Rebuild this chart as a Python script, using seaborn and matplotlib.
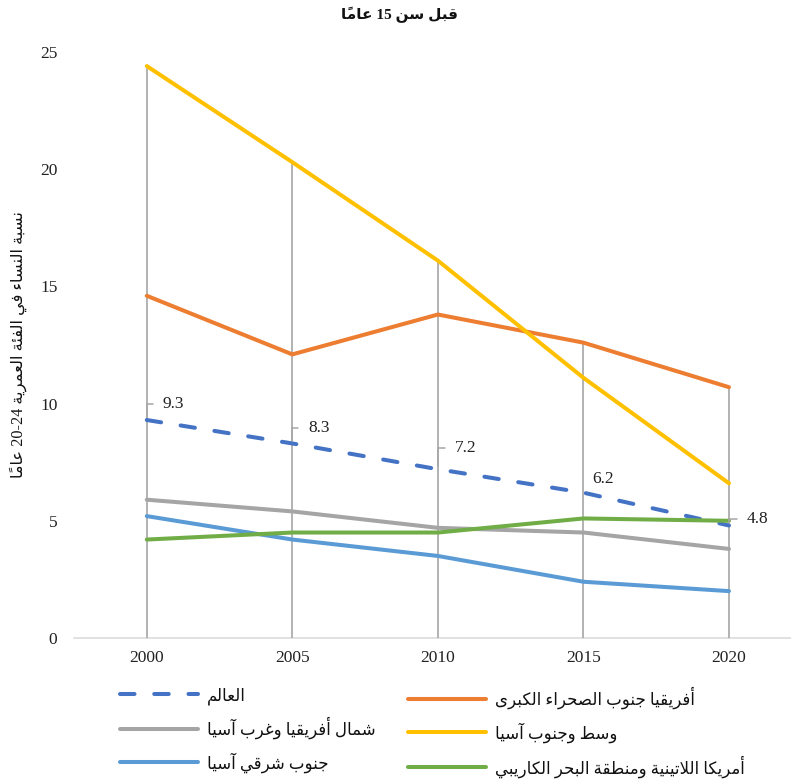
import re
import numpy as np
import pandas as pd
import matplotlib
matplotlib.use("Agg")
import matplotlib.pyplot as plt
from matplotlib.lines import Line2D
import seaborn as sns

# ---------------------------------------------------------------------------
# Data
# ---------------------------------------------------------------------------
years = [2000, 2005, 2010, 2015, 2020]

world = [9.3, 8.3, 7.2, 6.2, 4.8]
sub_saharan_africa = [14.6, 12.1, 13.8, 12.6, 10.7]
north_africa_west_asia = [5.9, 5.4, 4.7, 4.5, 3.8]
central_south_asia = [24.4, 20.3, 16.1, 11.1, 6.6]
south_east_asia = [5.2, 4.2, 3.5, 2.4, 2.0]
latin_america_caribbean = [4.2, 4.5, 4.5, 5.1, 5.0]

region_names = [
    "العالم",
    "أفريقيا جنوب الصحراء الكبرى",
    "شمال أفريقيا وغرب آسيا",
    "وسط وجنوب آسيا",
    "جنوب شرقي آسيا",
    "أمريكا اللاتينية ومنطقة البحر الكاريبي",
]
series_values = [
    world,
    sub_saharan_africa,
    north_africa_west_asia,
    central_south_asia,
    south_east_asia,
    latin_america_caribbean,
]
colors = ["#4472C4", "#ED7D31", "#A5A5A5", "#FFC000", "#5B9BD5", "#70AD47"]

title_text = "قبل سن 15 عاماً"
ylabel_text = "نسبة النساء في الفئة العمرية 20-24 عاماً"
y_ticks = [0, 5, 10, 15, 20, 25]

# ---------------------------------------------------------------------------
# Minimal Arabic shaping + right-to-left ordering for matplotlib text
# ---------------------------------------------------------------------------
# isolated, final, initial, medial
_FORMS = {
    "\u0621": ("\uFE80", None, None, None),
    "\u0622": ("\uFE81", "\uFE82", None, None),
    "\u0623": ("\uFE83", "\uFE84", None, None),
    "\u0624": ("\uFE85", "\uFE86", None, None),
    "\u0625": ("\uFE87", "\uFE88", None, None),
    "\u0626": ("\uFE89", "\uFE8A", "\uFE8B", "\uFE8C"),
    "\u0627": ("\uFE8D", "\uFE8E", None, None),
    "\u0628": ("\uFE8F", "\uFE90", "\uFE91", "\uFE92"),
    "\u0629": ("\uFE93", "\uFE94", None, None),
    "\u062A": ("\uFE95", "\uFE96", "\uFE97", "\uFE98"),
    "\u062B": ("\uFE99", "\uFE9A", "\uFE9B", "\uFE9C"),
    "\u062C": ("\uFE9D", "\uFE9E", "\uFE9F", "\uFEA0"),
    "\u062D": ("\uFEA1", "\uFEA2", "\uFEA3", "\uFEA4"),
    "\u062E": ("\uFEA5", "\uFEA6", "\uFEA7", "\uFEA8"),
    "\u062F": ("\uFEA9", "\uFEAA", None, None),
    "\u0630": ("\uFEAB", "\uFEAC", None, None),
    "\u0631": ("\uFEAD", "\uFEAE", None, None),
    "\u0632": ("\uFEAF", "\uFEB0", None, None),
    "\u0633": ("\uFEB1", "\uFEB2", "\uFEB3", "\uFEB4"),
    "\u0634": ("\uFEB5", "\uFEB6", "\uFEB7", "\uFEB8"),
    "\u0635": ("\uFEB9", "\uFEBA", "\uFEBB", "\uFEBC"),
    "\u0636": ("\uFEBD", "\uFEBE", "\uFEBF", "\uFEC0"),
    "\u0637": ("\uFEC1", "\uFEC2", "\uFEC3", "\uFEC4"),
    "\u0638": ("\uFEC5", "\uFEC6", "\uFEC7", "\uFEC8"),
    "\u0639": ("\uFEC9", "\uFECA", "\uFECB", "\uFECC"),
    "\u063A": ("\uFECD", "\uFECE", "\uFECF", "\uFED0"),
    "\u0641": ("\uFED1", "\uFED2", "\uFED3", "\uFED4"),
    "\u0642": ("\uFED5", "\uFED6", "\uFED7", "\uFED8"),
    "\u0643": ("\uFED9", "\uFEDA", "\uFEDB", "\uFEDC"),
    "\u0644": ("\uFEDD", "\uFEDE", "\uFEDF", "\uFEE0"),
    "\u0645": ("\uFEE1", "\uFEE2", "\uFEE3", "\uFEE4"),
    "\u0646": ("\uFEE5", "\uFEE6", "\uFEE7", "\uFEE8"),
    "\u0647": ("\uFEE9", "\uFEEA", "\uFEEB", "\uFEEC"),
    "\u0648": ("\uFEED", "\uFEEE", None, None),
    "\u0649": ("\uFEEF", "\uFEF0", None, None),
    "\u064A": ("\uFEF1", "\uFEF2", "\uFEF3", "\uFEF4"),
    # lam-alef ligatures (private keys)
    "LA\u0622": ("\uFEF5", "\uFEF6", None, None),
    "LA\u0623": ("\uFEF7", "\uFEF8", None, None),
    "LA\u0625": ("\uFEF9", "\uFEFA", None, None),
    "LA\u0627": ("\uFEFB", "\uFEFC", None, None),
}
_MARKS = set(chr(c) for c in range(0x064B, 0x0653)) | {"\u0670"}


def _shape_word(word):
    clusters = []  # [base_key, marks]
    i = 0
    while i < len(word):
        ch = word[i]
        if ch in _MARKS and clusters:
            clusters[-1][1] += ch
            i += 1
            continue
        if ch == "\u0644" and i + 1 < len(word) and word[i + 1] in "\u0622\u0623\u0625\u0627":
            clusters.append(["LA" + word[i + 1], ""])
            i += 2
            continue
        clusters.append([ch, ""])
        i += 1

    def joins_next(key):
        f = _FORMS.get(key)
        return f is not None and f[2] is not None

    def joins_prev(key):
        f = _FORMS.get(key)
        return f is not None and f[1] is not None

    out = []
    for k, (key, marks) in enumerate(clusters):
        forms = _FORMS.get(key)
        if forms is None:
            out.append(key + marks)
            continue
        prev_ok = k > 0 and joins_next(clusters[k - 1][0]) and joins_prev(key)
        next_ok = k + 1 < len(clusters) and joins_next(key) and joins_prev(clusters[k + 1][0])
        if prev_ok and next_ok:
            g = forms[3]
        elif prev_ok:
            g = forms[1]
        elif next_ok:
            g = forms[2]
        else:
            g = forms[0]
        out.append(g + marks)
    return "".join(reversed(out))


def rtl(text):
    tokens = re.findall(r"\s+|[0-9][0-9\-\.]*|[^\s0-9]+", text)
    visual = []
    for tok in reversed(tokens):
        if re.match(r"[0-9]", tok) or tok.isspace():
            visual.append(tok)
        else:
            visual.append(_shape_word(tok))
    return "".join(visual)


# ---------------------------------------------------------------------------
# Figure
# ---------------------------------------------------------------------------
sns.set_theme(style="white")
plt.rcParams["font.family"] = ["Liberation Serif", "DejaVu Sans"]
mixed = ["Liberation Serif", "DejaVu Sans"]

df = pd.DataFrame(
    {
        "year": np.tile(years, len(region_names)),
        "value": np.concatenate(series_values),
        "region": np.repeat(region_names, len(years)),
    }
)

W, H = 791, 779
fig = plt.figure(figsize=(W / 100, H / 100), dpi=100)
ax = fig.add_axes([74 / W, 1 - 638 / H, (W - 74) / W, (638 - 52) / H])

# drop lines from the highest series value down to zero
tops = np.max(np.array(series_values), axis=0)
ax.vlines(years, 0, tops, colors="#A6A6A6", linewidth=1.2, zorder=1)

dash_map = {name: "" for name in region_names}
dash_map[region_names[0]] = (3.6, 4.9)
sns.lineplot(
    data=df,
    x="year",
    y="value",
    hue="region",
    hue_order=region_names,
    palette=dict(zip(region_names, colors)),
    style="region",
    style_order=region_names,
    dashes=dash_map,
    linewidth=2.9,
    legend=False,
    ax=ax,
    zorder=3,
)
for ln in ax.lines:
    ln.set_solid_capstyle("round")
    ln.set_dash_capstyle("round")

ax.set_xlim(1997.5, 2022.13)
ax.set_ylim(0, 25)
ax.set_xticks(years)
ax.set_yticks(y_ticks)
ax.set_xlabel("")
ax.set_ylabel("")
for s in ["top", "right", "left"]:
    ax.spines[s].set_visible(False)
ax.spines["bottom"].set_color("#D9D9D9")
ax.spines["bottom"].set_linewidth(1.1)
ax.spines["bottom"].set_zorder(0.5)
ax.tick_params(axis="both", length=0, labelsize=12.5, colors="#222222")
ax.tick_params(axis="x", pad=9)
ax.tick_params(axis="y", pad=12)
for lbl in ax.get_xticklabels() + ax.get_yticklabels():
    lbl.set_fontfamily(mixed)
ax.grid(False)

# data labels for the world series
label_offsets = [(16, 16), (16, 15), (17, 21), (9, 14), (18, 6)]
leader = [True, True, True, False, True]
for x, v, (dx, dy), lead in zip(years, world, label_offsets, leader):
    props = None
    if lead:
        props = dict(
            arrowstyle="-",
            color="#A6A6A6",
            lw=1.1,
            connectionstyle="angle,angleA=180,angleB=90,rad=0",
            shrinkA=5,
            shrinkB=2,
            relpos=(0, 0.5),
        )
    ax.annotate(
        f"{v:.1f}",
        xy=(x, v),
        xytext=(dx, dy),
        textcoords="offset pixels",
        ha="left",
        va="center",
        fontsize=12.5,
        fontfamily=mixed,
        color="#222222",
        arrowprops=props,
        zorder=5,
    )

# title and axis label
fig.text(400 / W, 1 - 15 / H, rtl(title_text), ha="center", va="center",
         fontsize=11, fontweight="bold", fontfamily=mixed, color="#111111")
fig.text(18 / W, 1 - 345 / H, rtl(ylabel_text), ha="center", va="center",
         rotation=90, fontsize=11.7, fontfamily=mixed, color="#111111")

# legend: two columns of three rows
lines = ax.lines
col_idx = [[0, 2, 4], [1, 3, 5]]
col_x = [120, 408]
for idx, cx in zip(col_idx, col_x):
    handles = [
        Line2D([], [], color=lines[i].get_color(), linewidth=2.9,
               linestyle=lines[i].get_linestyle(),
               dashes=(3.6, 4.9) if i == 0 else (None, None),
               solid_capstyle="round", dash_capstyle="round")
        for i in idx
    ]
    leg = fig.legend(
        handles,
        [rtl(region_names[i]) for i in idx],
        loc="upper left",
        bbox_to_anchor=(cx / W, 1 - 687 / H),
        frameon=False,
        borderpad=0,
        borderaxespad=0,
        handlelength=4.7,
        handletextpad=0.5,
        labelspacing=0.75,
        prop={"family": mixed, "size": 12},
    )
    for t in leg.get_texts():
        t.set_color("#111111")

fig.savefig("out.png", dpi=100)
